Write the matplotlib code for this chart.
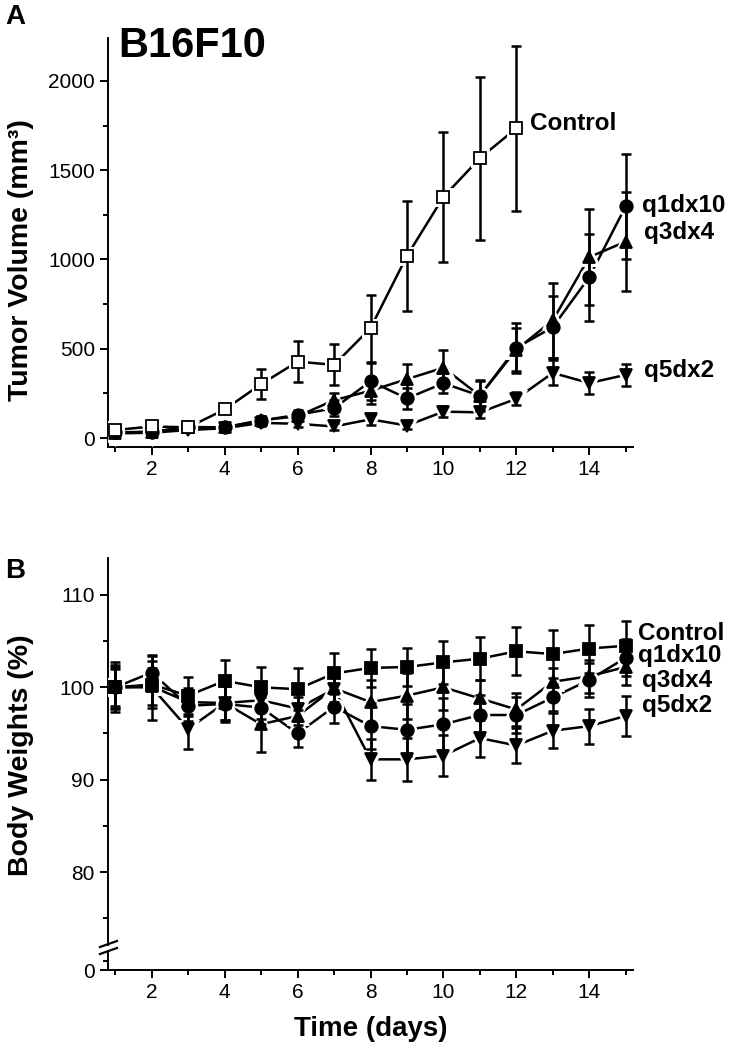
import matplotlib
matplotlib.use('Agg')
import matplotlib.pyplot as plt
from matplotlib.ticker import MultipleLocator, FixedLocator
import numpy as np

plt.rcParams['font.family'] = ['Liberation Sans', 'DejaVu Sans']

days = np.arange(1, 16)
ctrl_days = np.arange(1, 13)

# panel A: tumor volume (mm3)
tv_control = [45, 65, 60, 160, 302, 428, 410, 615, 1020, 1350, 1567, 1735]
tv_control_err = [15, 15, 15, 22, 82, 114, 114, 188, 310, 364, 457, 463]
tv_q1 = [32, 35, 60, 60, 98, 130, 167, 318, 222, 307, 237, 505, 621, 901, 1298]
tv_q1_err = [12, 12, 12, 15, 25, 25, 45, 105, 58, 55, 80, 140, 175, 243, 293]
tv_q3 = [30, 35, 62, 60, 100, 122, 212, 265, 330, 394, 237, 495, 659, 1013, 1100]
tv_q3_err = [12, 12, 12, 15, 25, 25, 40, 75, 85, 100, 87, 120, 208, 267, 278]
tv_q5 = [26, 30, 45, 55, 85, 80, 65, 105, 70, 148, 144, 220, 365, 308, 354]
tv_q5_err = [10, 10, 10, 12, 20, 20, 20, 30, 20, 30, 30, 37, 70, 62, 60]

# panel B: body weights (%)
bw_control = [100, 100.3, 99.1, 100.7, 100, 99.8, 101.5, 102.1, 102.2, 102.7, 103.1, 103.9, 103.6, 104.2, 104.5]
bw_control_err = [2.4, 2.5, 2.0, 2.3, 2.2, 2.3, 2.2, 2.1, 2.1, 2.3, 2.3, 2.6, 2.6, 2.6, 2.7]
bw_q1 = [100, 101.6, 98.0, 98.2, 97.8, 95.0, 97.9, 95.8, 95.4, 96.0, 97.0, 97.0, 98.9, 100.8, 103.2]
bw_q1_err = [2.2, 1.8, 1.7, 2.0, 1.8, 1.5, 1.8, 2.5, 2.8, 2.8, 2.2, 2.0, 1.5, 1.8, 2.0]
bw_q3 = [100, 100.1, 98.4, 98.3, 96.0, 96.9, 99.9, 98.4, 99.1, 100.0, 98.8, 97.6, 100.6, 101.2, 102.2]
bw_q3_err = [2.0, 2.0, 1.5, 1.8, 3.0, 2.0, 1.5, 2.4, 2.5, 2.5, 2.0, 1.8, 1.5, 1.8, 2.0]
bw_q5 = [100, 100.0, 95.5, 98.3, 98.6, 97.7, 99.8, 92.2, 92.2, 92.6, 94.5, 93.7, 95.3, 95.8, 96.9]
bw_q5_err = [2.7, 3.5, 2.2, 1.8, 2.0, 1.8, 2.0, 2.2, 2.3, 2.2, 2.0, 1.9, 1.9, 1.9, 2.2]

W, H = 730, 1050
fig = plt.figure(figsize=(W / 100, H / 100), dpi=100)


def box(x0, y0, x1, y1):
    # pixel box (top-left origin) -> figure fraction rect
    return [x0 / W, 1 - y1 / H, (x1 - x0) / W, (y1 - y0) / H]


def style(ax):
    ax.spines['top'].set_visible(False)
    ax.spines['right'].set_visible(False)
    for s in ax.spines.values():
        s.set_linewidth(1.4)
    ax.tick_params(which='major', direction='out', length=6, width=1.4, labelsize=15)
    ax.tick_params(which='minor', direction='out', length=3.5, width=1.4)


def draw_series(ax, series):
    # Origin-like look: line gaps around markers, error bars through markers
    for x, y, err, m, fc in series:
        ax.plot(x, y, '-', color='black', lw=1.8, zorder=2)
    for x, y, err, m, fc in series:
        ax.plot(x, y, m, ls='none', ms=9, mfc='white', mec='white', mew=5, zorder=3)
    for x, y, err, m, fc in series:
        ax.errorbar(x, y, yerr=err, fmt='none', ecolor='black', elinewidth=1.8,
                    capsize=3.5, capthick=1.8, zorder=4)
    for x, y, err, m, fc in series:
        ax.plot(x, y, m, ls='none', ms=9, mfc=fc, mec='black', mew=1.3, zorder=5)


# ---- panel A ----
axa = fig.add_axes(box(108, 38, 633, 447))
style(axa)
draw_series(axa, [
    (days, tv_q5, tv_q5_err, 'v', 'black'),
    (days, tv_q3, tv_q3_err, '^', 'black'),
    (days, tv_q1, tv_q1_err, 'o', 'black'),
    (ctrl_days, tv_control, tv_control_err, 's', 'white'),
])
axa.set_xlim(0.8, 15.2)
axa.set_ylim(-50, 2240)
axa.xaxis.set_major_locator(FixedLocator([2, 4, 6, 8, 10, 12, 14]))
axa.xaxis.set_minor_locator(MultipleLocator(1))
axa.yaxis.set_major_locator(MultipleLocator(500))
axa.yaxis.set_minor_locator(MultipleLocator(250))
axa.set_ylabel('Tumor Volume (mm³)', fontsize=20.5, fontweight='bold')
axa.yaxis.set_label_coords(-0.14, 0.457)
axa.text(12.38, 1760, 'Control', fontsize=17.5, fontweight='bold', va='center')
axa.text(15.45, 1300, 'q1dx10', fontsize=17.5, fontweight='bold', va='center')
axa.text(15.5, 1150, 'q3dx4', fontsize=17.5, fontweight='bold', va='center')
axa.text(15.5, 380, 'q5dx2', fontsize=17.5, fontweight='bold', va='center')
axa.text(0.02, 1.03, 'B16F10', transform=axa.transAxes, fontsize=30, fontweight='bold', va='top')
fig.text(5 / W, 1 - 4 / H, 'A', fontsize=20, fontweight='bold', va='top')

# ---- panel B (broken y axis) ----
axb = fig.add_axes(box(108, 558, 633, 945))
axb0 = fig.add_axes(box(108, 951, 633, 970), sharex=axb)
style(axb)
style(axb0)
axb.spines['bottom'].set_visible(False)
axb.tick_params(axis='x', which='both', bottom=False, labelbottom=False)

draw_series(axb, [
    (days, bw_q5, bw_q5_err, 'v', 'black'),
    (days, bw_q3, bw_q3_err, '^', 'black'),
    (days, bw_q1, bw_q1_err, 'o', 'black'),
    (days, bw_control, bw_control_err, 's', 'black'),
])
axb.set_xlim(0.8, 15.2)
axb.set_ylim(72.1, 114)
axb.yaxis.set_major_locator(MultipleLocator(10))
axb.yaxis.set_minor_locator(MultipleLocator(5))
axb.set_ylabel('Body Weights (%)', fontsize=20.5, fontweight='bold')
axb.yaxis.set_label_coords(-0.14, 0.49)

axb0.set_ylim(0, 2.1)
axb0.yaxis.set_major_locator(FixedLocator([0]))
axb0.yaxis.set_minor_locator(FixedLocator([1]))
axb0.xaxis.set_major_locator(FixedLocator([2, 4, 6, 8, 10, 12, 14]))
axb0.xaxis.set_minor_locator(MultipleLocator(1))
axb0.spines['top'].set_visible(False)
axb0.set_xlabel('Time (days)', fontsize=20, fontweight='bold', labelpad=10)

for y in (944, 951):
    fig.add_artist(plt.Line2D([100 / W, 117 / W], [1 - (y + 3) / H, 1 - (y - 3) / H],
                              color='black', lw=1.6))

axb.text(15.35, 105.8, 'Control', fontsize=17.5, fontweight='bold', va='center')
axb.text(15.35, 103.4, 'q1dx10', fontsize=17.5, fontweight='bold', va='center')
axb.text(15.45, 100.7, 'q3dx4', fontsize=17.5, fontweight='bold', va='center')
axb.text(15.45, 98.0, 'q5dx2', fontsize=17.5, fontweight='bold', va='center')
fig.text(5 / W, 1 - 558 / H, 'B', fontsize=20, fontweight='bold', va='top')

fig.savefig('out.png', dpi=100)
